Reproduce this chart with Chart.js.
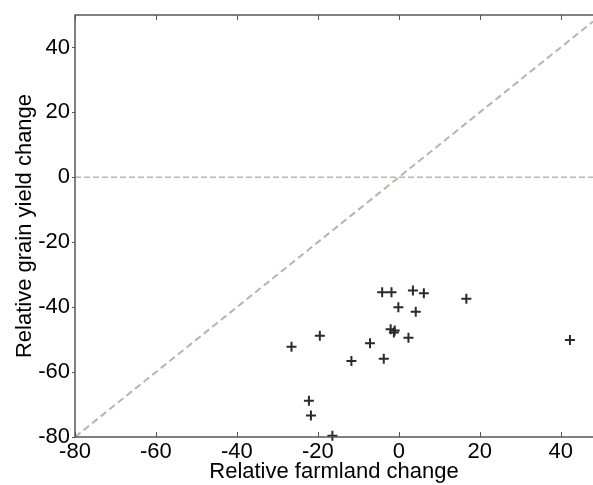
<!DOCTYPE html>
<html>
<head>
<meta charset="utf-8">
<script src="https://cdn.jsdelivr.net/npm/chart.js@4.4.1/dist/chart.umd.min.js"></script>
<style>
  html, body { margin: 0; padding: 0; background: #fff; }
  #wrap { width: 593px; height: 485px; position: relative; }
</style>
</head>
<body>
<div id="wrap"><canvas id="chart"></canvas></div>
<script>
'use strict';

// Relative farmland change (x) vs relative grain yield change (y), in %
const farmlandChange = [-4.1, -1.8, 3.5, 6.2, 16.7, -0.1, 4.2, -2.0, -1.2, -1.0, 2.4, -19.5, -26.5, -7.1, -11.7, -3.7, -22.2, -21.7, -16.4, 42.3];
const yieldChange = [-35.4, -35.4, -34.9, -35.7, -37.4, -40.0, -41.4, -46.8, -47.8, -47.2, -49.4, -48.8, -52.2, -51.1, -56.6, -55.9, -68.8, -73.4, -79.6, -50.1];

// Reference lines
const diagonalX = [-80, 48];
const zeroLineX = [-80, 48];

// Axis ticks
const xTicks = [-80, -60, -40, -20, 0, 20, 40];
const yTicks = [-80, -60, -40, -20, 0, 20, 40];

const FONT = 'Liberation Sans, Arial, sans-serif';
const AXIS_COLOR = '#555';
const REF_COLOR = '#bab4a7';

const points = farmlandChange.map((x, i) => ({ x, y: yieldChange[i] }));

// Draws the box lines and MATLAB-style ticks
const axesPlugin = {
  id: 'axesPlugin',
  afterDraw(chart) {
    const { ctx, chartArea } = chart;
    const xs = chart.scales.x;
    const ys = chart.scales.y;
    ctx.save();
    ctx.strokeStyle = AXIS_COLOR;
    ctx.lineWidth = 1.5;
    ctx.beginPath();
    ctx.moveTo(chartArea.right, chartArea.top);
    ctx.lineTo(chartArea.left, chartArea.top);
    ctx.lineTo(chartArea.left, chartArea.bottom);
    ctx.lineTo(chartArea.right, chartArea.bottom);
    ctx.stroke();

    ctx.lineWidth = 1;
    ctx.beginPath();
    xTicks.forEach((v) => {
      const px = Math.round(xs.getPixelForValue(v)) + 0.5;
      ctx.moveTo(px, chartArea.bottom);
      ctx.lineTo(px, chartArea.bottom - 5);
      ctx.moveTo(px, chartArea.top);
      ctx.lineTo(px, chartArea.top + 5);
    });
    yTicks.forEach((v) => {
      const py = Math.round(ys.getPixelForValue(v)) + 0.5;
      ctx.moveTo(chartArea.left, py);
      ctx.lineTo(chartArea.left - 3, py);
    });
    ctx.stroke();
    ctx.restore();
  },
};

new Chart(document.getElementById('chart'), {
  type: 'scatter',
  data: {
    datasets: [
      {
        label: 'Countries',
        data: points,
        pointStyle: 'cross',
        pointRadius: 5,
        pointBorderWidth: 2,
        borderColor: '#2a2a2a',
        backgroundColor: '#2a2a2a',
        order: 0,
      },
      {
        type: 'line',
        label: '1:1',
        data: diagonalX.map((x) => ({ x, y: x })),
        borderColor: REF_COLOR,
        borderWidth: 2,
        borderDash: [7, 4],
        pointRadius: 0,
        fill: false,
        order: 1,
      },
      {
        type: 'line',
        label: 'zero',
        data: zeroLineX.map((x) => ({ x, y: 0 })),
        borderColor: REF_COLOR,
        borderWidth: 1.5,
        borderDash: [6, 3],
        pointRadius: 0,
        fill: false,
        order: 1,
      },
    ],
  },
  options: {
    responsive: true,
    maintainAspectRatio: false,
    animation: false,
    clip: false,
    layout: { autoPadding: false, padding: { top: 15, right: 0, left: 0, bottom: 0 } },
    plugins: {
      legend: { display: false },
      tooltip: { enabled: false },
    },
    scales: {
      x: {
        type: 'linear',
        min: -80,
        max: 48,
        afterBuildTicks: (scale) => { scale.ticks = xTicks.map((v) => ({ value: v })); },
        afterFit: (scale) => { scale.height = 48; scale.paddingLeft = 0; scale.paddingRight = 0; },
        grid: { display: false, drawTicks: false },
        border: { display: false },
        ticks: {
          font: { family: FONT, size: 22 },
          color: '#000',
          padding: 2,
          maxRotation: 0,
        },
        title: {
          display: true,
          text: 'Relative farmland change',
          font: { family: FONT, size: 22 },
          color: '#000',
          padding: { top: 0, bottom: 0 },
        },
      },
      y: {
        type: 'linear',
        min: -80,
        max: 50,
        afterBuildTicks: (scale) => { scale.ticks = yTicks.map((v) => ({ value: v })); },
        afterFit: (scale) => { scale.width = 75; scale.paddingTop = 0; scale.paddingBottom = 0; },
        grid: { display: false, drawTicks: false },
        border: { display: false },
        ticks: {
          font: { family: FONT, size: 22 },
          color: '#000',
          padding: 5,
        },
        title: {
          display: true,
          text: 'Relative grain yield change',
          font: { family: FONT, size: 22 },
          color: '#000',
          padding: { top: 12, bottom: 0 },
        },
      },
    },
  },
  plugins: [axesPlugin],
});
</script>
</body>
</html>
